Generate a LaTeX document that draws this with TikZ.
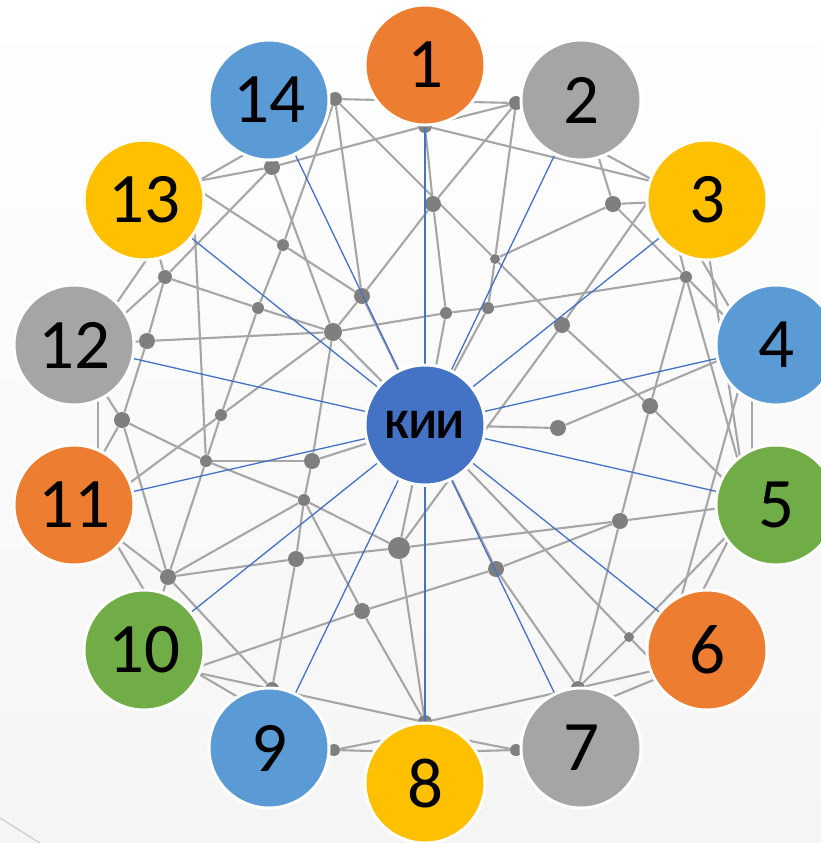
\documentclass[tikz,border=0pt]{standalone}
\usepackage{fontspec}
\setmainfont{Carlito}
\pgfdeclarelayer{bg}
\pgfdeclarelayer{edges}
\pgfdeclarelayer{dots}
\pgfdeclarelayer{spokes}
\pgfsetlayers{bg,edges,dots,spokes,main}
\definecolor{corange}{HTML}{ED7D31}
\definecolor{cgray}{HTML}{A5A5A5}
\definecolor{cgold}{HTML}{FFC000}
\definecolor{cblue}{HTML}{5B9BD5}
\definecolor{cgreen}{HTML}{70AD47}
\definecolor{ckii}{HTML}{4472C4}
\definecolor{edgegray}{HTML}{A6A6A6}
\definecolor{dotgray}{HTML}{7F7F7F}
\definecolor{bgmid}{HTML}{E4E5E7}
\definecolor{bgbot}{HTML}{F5F5F5}
\begin{document}
\begin{tikzpicture}[x=0.5pt,y=-0.5pt,
  big/.style={circle, draw=white, line width=1.5pt, minimum size=60pt, inner sep=0pt,
    font=\fontsize{35.5}{35.5}\selectfont, text=black},
  jdot/.style={circle, fill=dotgray, inner sep=0pt, minimum size=#1},
  link/.style={draw=edgegray, line width=1.05pt},
  spoke/.style={draw=ckii, line width=0.65pt}]
\useasboundingbox (0,0) rectangle (821,843);
\coordinate (bg1) at (0,0);
\coordinate (bg2) at (821,843);
\coordinate (bl1) at (0,818);
\coordinate (bl2) at (40,843);
\begin{pgfonlayer}{bg}
\shade[top color=white, middle color=bgmid, bottom color=bgbot] (bg1) rectangle (bg2);
\draw[draw=black!22, line width=0.5pt] (bl1) -- (bl2);
\end{pgfonlayer}

% big nodes
\node[big, fill=corange] (n1) at (425,65) {1};
\node[big, fill=cgray] (n2) at (581,100) {2};
\node[big, fill=cgold] (n3) at (707,200) {3};
\node[big, fill=cblue] (n4) at (776,345) {4};
\node[big, fill=cgreen] (n5) at (776,505) {5};
\node[big, fill=corange] (n6) at (707,650) {6};
\node[big, fill=cgray] (n7) at (581,748) {7};
\node[big, fill=cgold] (n8) at (425,783) {8};
\node[big, fill=cblue] (n9) at (269,748) {9};
\node[big, fill=cgreen] (n10) at (144,650) {10};
\node[big, fill=corange] (n11) at (74,505) {11};
\node[big, fill=cgray] (n12) at (74,345) {12};
\node[big, fill=cgold] (n13) at (144,200) {13};
\node[big, fill=cblue] (n14) at (269,100) {14};
\node[big, fill=ckii, font=\bfseries\fontsize{21}{21}\selectfont] (kii) at (425,425) {КИИ};

% small dots
\begin{pgfonlayer}{dots}
\node[jdot=7pt] (d1) at (335,99) {};
\node[jdot=7pt] (d2) at (516,103) {};
\node[jdot=7pt] (d3) at (425,126) {};
\node[jdot=8pt] (d4) at (272,167) {};
\node[jdot=8pt] (d5) at (433,204) {};
\node[jdot=8pt] (d6) at (613,204) {};
\node[jdot=6pt] (d7) at (283,245) {};
\node[jdot=5pt] (d8) at (495,259) {};
\node[jdot=6pt] (d9) at (686,277) {};
\node[jdot=7pt] (d10) at (165,277) {};
\node[jdot=6pt] (d11) at (258,308) {};
\node[jdot=8pt] (d12) at (362,296) {};
\node[jdot=6pt] (d13) at (446,313) {};
\node[jdot=6pt] (d14) at (488,308) {};
\node[jdot=9pt] (d15) at (333,332) {};
\node[jdot=8pt] (d16) at (562,325) {};
\node[jdot=8pt] (d17) at (147,341) {};
\node[jdot=8pt] (d18) at (650,406) {};
\node[jdot=8pt] (d19) at (122,420) {};
\node[jdot=6pt] (d20) at (221,415) {};
\node[jdot=8pt] (d21) at (558,428) {};
\node[jdot=6pt] (d22) at (206,461) {};
\node[jdot=8pt] (d23) at (312,461) {};
\node[jdot=6pt] (d24) at (304,500) {};
\node[jdot=8pt] (d25) at (620,521) {};
\node[jdot=11pt] (d26) at (399,548) {};
\node[jdot=8pt] (d27) at (296,559) {};
\node[jdot=8pt] (d28) at (168,577) {};
\node[jdot=8pt] (d29) at (496,569) {};
\node[jdot=8pt] (d30) at (362,611) {};
\node[jdot=5pt] (d31) at (629,637) {};
\node[jdot=7pt] (d32) at (578,688) {};
\node[jdot=7pt] (d33) at (272,689) {};
\node[jdot=7pt] (d34) at (425,722) {};
\node[jdot=6pt] (d35) at (334,750) {};
\node[jdot=6pt] (d36) at (516,750) {};
\end{pgfonlayer}

% hidden end points (under the big circles)
\coordinate (h5a) at (750,505);
\coordinate (h3a) at (700,193);
\coordinate (h13a) at (150,190);
\coordinate (h13b) at (170,197);
\coordinate (h14b) at (270,140);
\coordinate (h13c) at (180,178);
\coordinate (h13d) at (194,215);
\coordinate (h12a) at (85,350);
\coordinate (h13e) at (160,240);
\coordinate (h12e) at (105,320);
\coordinate (h2a) at (590,146);
\coordinate (h3b) at (690,200);
\coordinate (h3c) at (660,184);
\coordinate (h5b) at (745,485);
\coordinate (h4a) at (745,337);
\coordinate (h3d) at (675,235);
\coordinate (h3e) at (690,240);
\coordinate (h4e) at (745,334);
\coordinate (h4f) at (752,370);
\coordinate (h5f) at (752,480);
\coordinate (h4g) at (744,370);
\coordinate (h6g) at (675,620);
\coordinate (h3h) at (705,230);
\coordinate (h5h) at (745,490);
\coordinate (h5i) at (760,503);
\coordinate (h4j) at (760,343);
\coordinate (h10a) at (160,680);
\coordinate (h11a) at (100,505);
\coordinate (h12b) at (98,380);
\coordinate (h11b) at (98,470);
\coordinate (h11c) at (105,525);
\coordinate (h10c) at (150,600);
\coordinate (h5c) at (741,515);
\coordinate (h6c) at (688,620);
\coordinate (h5d) at (745,517);
\coordinate (h6d) at (700,660);
\coordinate (h6e) at (680,669);
\coordinate (h7e) at (600,702);
\coordinate (h6f) at (665,674);
\coordinate (h8a) at (440,752);
\coordinate (h8b) at (440,735);
\coordinate (h8c) at (410,752);
\coordinate (h8d) at (410,735);
\coordinate (h7f) at (560,750);
\coordinate (h9f) at (290,750);
\coordinate (h10d) at (180,669);
\coordinate (h10e) at (180,663);
\coordinate (h9e) at (255,707);

% gray connectors
\begin{pgfonlayer}{edges}
\draw[link] (d1) -- (d2);
\draw[link] (d1) -- (d8);
\draw[link] (d8) -- (d16);
\draw[link] (d16) -- (d18);
\draw[link] (d18) -- (h5a);
\draw[link] (d1) -- (d7);
\draw[link] (d7) -- (d11);
\draw[link] (d11) -- (d20);
\draw[link] (d20) -- (d22);
\draw[link] (d22) -- (d28);
\draw[link] (d28) -- (n10);
\draw[link] (d1) -- (d12);
\draw[link] (d12) -- (kii);
\draw[link] (d2) -- (d5);
\draw[link] (d5) -- (d12);
\draw[link] (d12) -- (d15);
\draw[link] (d2) -- (d8);
\draw[link] (d8) -- (d14);
\draw[link] (d14) -- (kii);
\draw[link] (d3) -- (d5);
\draw[link] (d5) -- (d13);
\draw[link] (d13) -- (kii);
\draw[link] (d3) -- (h3a);
\draw[link] (d3) -- (d2);
\draw[link] (d4) -- (h13a);
\draw[link] (d4) -- (d3);
\draw[link] (d4) -- (d10);
\draw[link] (d4) -- (d15);
\draw[link] (h13b) -- (h14b);
\draw[link] (h13c) -- (d7);
\draw[link] (d7) -- (d12);
\draw[link] (n13) -- (d10);
\draw[link] (h13e) -- (h12e);
\draw[link] (h13d) -- (d22);
\draw[link] (d10) -- (d11);
\draw[link] (d11) -- (d15);
\draw[link] (d10) -- (h12a);
\draw[link] (d10) -- (d17);
\draw[link] (d17) -- (d19);
\draw[link] (d17) -- (n12);
\draw[link] (d17) -- (d15);
\draw[link] (d15) -- (d13);
\draw[link] (d13) -- (d14);
\draw[link] (d14) -- (d9);
\draw[link] (d15) -- (d23);
\draw[link] (d23) -- (d24);
\draw[link] (d24) -- (d27);
\draw[link] (d27) -- (d33);
\draw[link] (d15) -- (d20);
\draw[link] (d15) -- (kii);
\draw[link] (d6) -- (n2);
\draw[link] (d6) -- (n3);
\draw[link] (d6) -- (d8);
\draw[link] (d6) -- (d9);
\draw[link] (d9) -- (h4a);
\draw[link] (h2a) -- (h3b);
\draw[link] (h3c) -- (d16);
\draw[link] (d16) -- (d26);
\draw[link] (d9) -- (d18);
\draw[link] (d18) -- (d25);
\draw[link] (d25) -- (d32);
\draw[link] (d9) -- (h5b);
\draw[link] (h3d) -- (d9);
\draw[link] (h3e) -- (h4e);
\draw[link] (h4f) -- (h5f);
\draw[link] (h4g) -- (h6g);
\draw[link] (h3h) -- (h5h);
\draw[link] (d25) -- (h5i);
\draw[link] (kii) -- (d21);
\draw[link] (d21) -- (h4j);
\draw[link] (d28) -- (d27);
\draw[link] (d27) -- (d26);
\draw[link] (d26) -- (d25);
\draw[link] (h10a) -- (d30);
\draw[link] (d30) -- (d29);
\draw[link] (d29) -- (d25);
\draw[link] (d19) -- (d22);
\draw[link] (d22) -- (d24);
\draw[link] (d24) -- (d26);
\draw[link] (d19) -- (d28);
\draw[link] (d19) -- (n11);
\draw[link] (n12) -- (d19);
\draw[link] (h12b) -- (h11b);
\draw[link] (h11a) -- (d20);
\draw[link] (n11) -- (d28);
\draw[link] (h11c) -- (h10c);
\draw[link] (d28) -- (d24);
\draw[link] (d28) -- (d33);
\draw[link] (d23) -- (d22);
\draw[link] (d23) -- (kii);
\draw[link] (d24) -- (d30);
\draw[link] (d30) -- (d34);
\draw[link] (d26) -- (d34);
\draw[link] (kii) -- (d26);
\draw[link] (kii) -- (d29);
\draw[link] (d29) -- (d32);
\draw[link] (kii) -- (d34);
\draw[link] (kii) -- (d31);
\draw[link] (d31) -- (h6f);
\draw[link] (h5d) -- (d31);
\draw[link] (d31) -- (d32);
\draw[link] (d32) -- (h6d);
\draw[link] (h6e) -- (h7e);
\draw[link] (h5c) -- (h6c);
\draw[link] (d32) -- (d34);
\draw[link] (d36) -- (h8a);
\draw[link] (d36) -- (h8b);
\draw[link] (d36) -- (h7f);
\draw[link] (d35) -- (h8c);
\draw[link] (d35) -- (h8d);
\draw[link] (d35) -- (h9f);
\draw[link] (h10d) -- (d33);
\draw[link] (d33) -- (d34);
\draw[link] (h10e) -- (h9e);
\end{pgfonlayer}

% blue spokes
\begin{pgfonlayer}{spokes}
\foreach \i in {1,...,14} \draw[spoke] (kii) -- (n\i);
\end{pgfonlayer}
\end{tikzpicture}
\end{document}
